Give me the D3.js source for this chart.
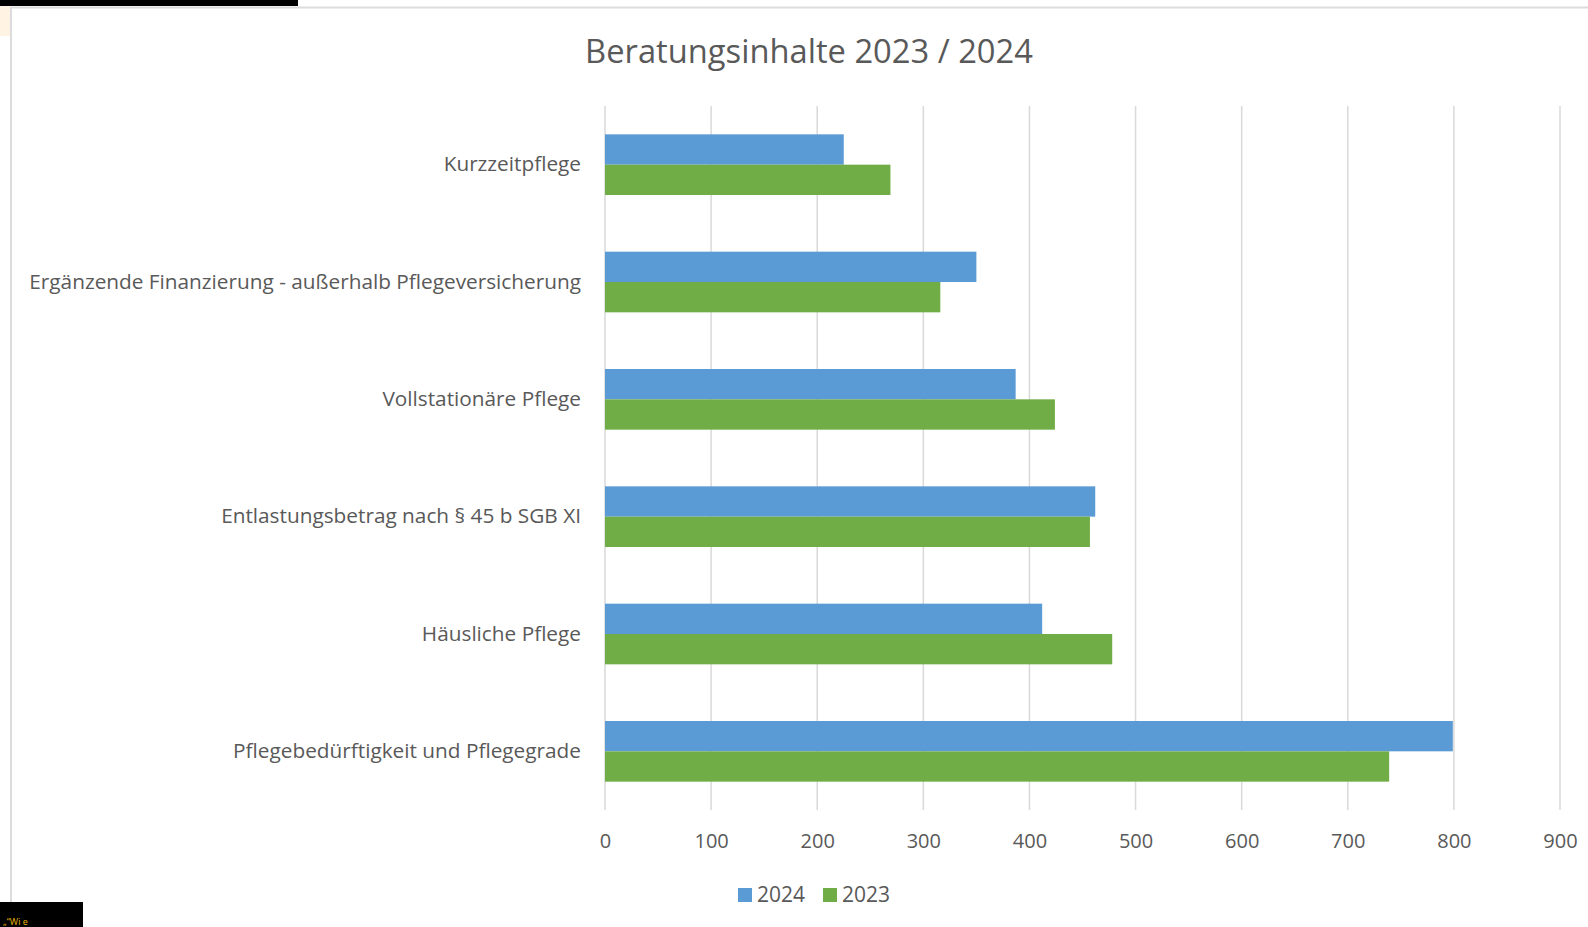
<!DOCTYPE html>
<html>
<head>
<meta charset="utf-8">
<script src="https://cdn.jsdelivr.net/npm/d3@7"></script>
<style>
    body { margin: 0; background: #fff; }
    text { font-family: "Open Sans", "DejaVu Sans", sans-serif; fill: #595959; }
</style>
</head>
<body>
<div id="chart"></div>
<script>
// Data
const categories = [
    "Kurzzeitpflege",
    "Ergänzende Finanzierung - außerhalb Pflegeversicherung",
    "Vollstationäre Pflege",
    "Entlastungsbetrag nach § 45 b SGB XI",
    "Häusliche Pflege",
    "Pflegebedürftigkeit und Pflegegrade"
];
const seriesNames = ["2024", "2023"];
const values2024 = [225, 350, 387, 462, 412, 799];
const values2023 = [269, 316, 424, 457, 478, 739];
const xTicks = [0, 100, 200, 300, 400, 500, 600, 700, 800, 900];
const chartTitle = "Beratungsinhalte 2023 / 2024";

const colors = { "2024": "#5B9BD5", "2023": "#70AD47" };

const dataset = categories.map((c, i) => ({
    category: c,
    values: [
        { key: "2024", value: values2024[i] },
        { key: "2023", value: values2023[i] }
    ]
}));

function draw() {
    let dimensions = {
        width: 1588,
        height: 927,
        margin: { top: 106, right: 28, bottom: 117, left: 605 }
    };
    dimensions.containerWidth = dimensions.width - dimensions.margin.left - dimensions.margin.right;
    dimensions.containerHeight = dimensions.height - dimensions.margin.top - dimensions.margin.bottom;

    const svg = d3.select("#chart")
        .append("svg")
        .attr("width", dimensions.width)
        .attr("height", dimensions.height);

    // page decoration around the chart (frame, black strips)
    svg.append("rect")
        .attr("x", 0).attr("y", 6).attr("width", 10).attr("height", 30)
        .attr("fill", "#FFF4E4");
    svg.append("path")
        .attr("d", `M11,${dimensions.height} V7.5 H${dimensions.width}`)
        .attr("fill", "none")
        .attr("stroke", "#DCDCDC")
        .attr("stroke-width", 2);
    svg.append("rect")
        .attr("x", 0).attr("y", 0).attr("width", 298).attr("height", 6)
        .attr("fill", "#000");

    const container = svg.append("g")
        .attr("transform", `translate(${dimensions.margin.left}, ${dimensions.margin.top})`);

    // Scales
    const xScale = d3.scaleLinear()
        .domain([0, 900])
        .range([0, 955]);

    const yScale = d3.scaleBand()
        .domain(categories)
        .range([0, dimensions.containerHeight])
        .paddingInner(0.483)
        .paddingOuter(0.2415);

    const subScale = d3.scaleBand()
        .domain(seriesNames)
        .range([0, yScale.bandwidth()]);

    // Gridlines
    container.append("g")
        .selectAll("line")
        .data(xTicks)
        .join("line")
            .attr("x1", d => xScale(d))
            .attr("x2", d => xScale(d))
            .attr("y1", 0)
            .attr("y2", dimensions.containerHeight)
            .attr("stroke", "#D9D9D9")
            .attr("stroke-width", 1.5);

    // Bars
    container.append("g")
        .selectAll("g")
        .data(dataset)
        .join("g")
            .attr("transform", d => `translate(0, ${yScale(d.category)})`)
        .selectAll("rect")
        .data(d => d.values)
        .join("rect")
            .attr("x", xScale(0))
            .attr("y", d => subScale(d.key))
            .attr("width", d => xScale(d.value) - xScale(0))
            .attr("height", subScale.bandwidth())
            .attr("fill", d => colors[d.key]);

    // X axis
    const xAxis = d3.axisBottom(xScale)
        .tickValues(xTicks)
        .tickSize(0)
        .tickPadding(24);
    const xAxisGroup = container.append("g")
        .attr("transform", `translate(0, ${dimensions.containerHeight})`)
        .call(xAxis);
    xAxisGroup.select(".domain").remove();
    xAxisGroup.selectAll("text")
        .style("font-size", "20px")
        .attr("fill", "#595959");

    // Y axis
    const yAxis = d3.axisLeft(yScale)
        .tickSize(0)
        .tickPadding(24);
    const yAxisGroup = container.append("g").call(yAxis);
    yAxisGroup.select(".domain").remove();
    const yLabels = yAxisGroup.selectAll("text")
        .style("font-size", "20px")
        .attr("fill", "#595959");
    // fit the label size to the longest label width
    const longest = d3.max(yLabels.nodes(), n => n.getComputedTextLength());
    yLabels.style("font-size", (20 * 552 / longest) + "px");

    // Title
    const title = svg.append("text")
        .attr("x", 809)
        .attr("y", 62.5)
        .attr("text-anchor", "middle")
        .style("font-size", "30px")
        .text(chartTitle);
    const titleWidth = title.node().getComputedTextLength();
    title.style("font-size", (30 * 448 / titleWidth) + "px");

    // Legend
    const legend = svg.append("g")
        .attr("transform", "translate(738, 888)");
    const legendItems = legend.selectAll("g")
        .data(seriesNames)
        .join("g")
            .attr("transform", (d, i) => `translate(${i * 85}, 0)`);
    legendItems.append("rect")
        .attr("width", 14)
        .attr("height", 14)
        .attr("fill", d => colors[d]);
    legendItems.append("text")
        .attr("x", 19)
        .attr("y", 14)
        .style("font-size", "21px")
        .text(d => d);

    // black strip at the bottom left with small yellow text
    svg.append("rect")
        .attr("x", 0).attr("y", 902).attr("width", 83).attr("height", 25)
        .attr("fill", "#000");
    svg.append("text")
        .attr("x", 3)
        .attr("y", 925)
        .style("font-size", "9px")
        .style("fill", "#E8B400")
        .text("\u201E\u201CWi e");
}

draw();
</script>
</body>
</html>
